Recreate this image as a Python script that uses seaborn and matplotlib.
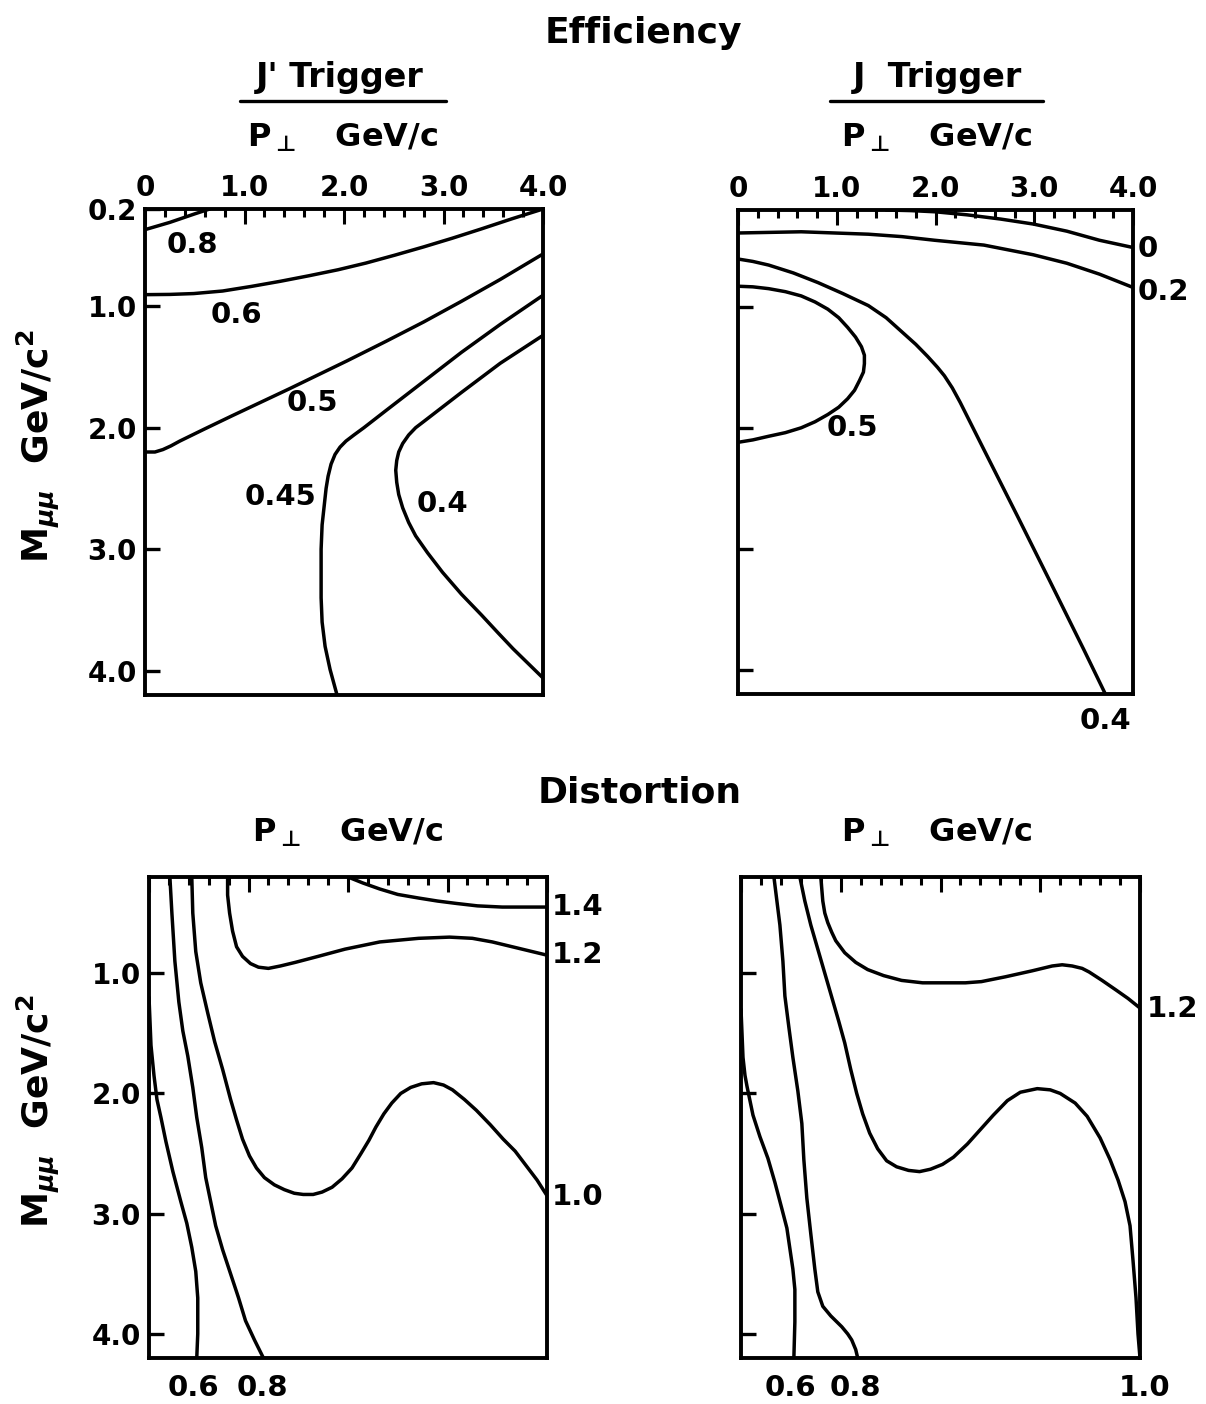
import matplotlib
matplotlib.use("agg")
import matplotlib.pyplot as plt
from matplotlib.lines import Line2D
from matplotlib.ticker import MultipleLocator
import seaborn as sns

# ---- Efficiency, J' trigger  (pT GeV/c, M GeV/c^2) ----
jp_08_pt = [0, 0.25, 0.5, 0.65]
jp_08_m = [0.37, 0.31, 0.24, 0.2]
jp_06_pt = [0, 0.25, 0.49, 0.78, 1.07, 1.36, 1.65, 1.94, 2.22, 2.51, 2.8, 3.09, 3.38, 3.69, 4.0]
jp_06_m = [0.905, 0.903, 0.896, 0.875, 0.837, 0.795, 0.749, 0.7, 0.645, 0.58, 0.512, 0.44,
           0.364, 0.28, 0.2]
jp_05_pt = [0, 0.1, 0.18, 0.26, 0.35, 0.6, 0.88, 1.45, 2.03, 2.42, 2.8, 3.18, 3.57, 4.0]
jp_05_m = [2.2, 2.2, 2.18, 2.15, 2.11, 2.01, 1.9, 1.68, 1.45, 1.29, 1.13, 0.96, 0.78, 0.57]
jp_045_pt = [4.0, 3.57, 3.18, 2.8, 2.42, 2.2, 2.1, 2.02, 1.96, 1.91, 1.87, 1.84, 1.82, 1.8,
             1.78, 1.77, 1.77, 1.77, 1.78, 1.81, 1.86, 1.93]
jp_045_m = [0.91, 1.15, 1.38, 1.62, 1.86, 2.0, 2.06, 2.11, 2.16, 2.22, 2.3, 2.4, 2.5, 2.65,
            2.8, 3.0, 3.2, 3.4, 3.6, 3.8, 3.99, 4.2]
jp_04_pt = [4.0, 3.57, 3.18, 2.8, 2.72, 2.65, 2.59, 2.55, 2.53, 2.52, 2.53, 2.55, 2.59, 2.65,
            2.72, 2.84, 2.99, 3.18, 3.38, 3.55, 3.7, 3.85, 4.0]
jp_04_m = [1.24, 1.47, 1.71, 1.95, 2.0, 2.06, 2.13, 2.2, 2.27, 2.35, 2.45, 2.55, 2.66, 2.78,
           2.89, 3.03, 3.19, 3.37, 3.54, 3.69, 3.82, 3.94, 4.06]

# ---- Efficiency, J trigger ----
j_0_pt = [1.5, 1.75, 2.0, 2.32, 2.66, 2.99, 3.33, 3.66, 4.0]
j_0_m = [0.2, 0.205, 0.215, 0.24, 0.275, 0.316, 0.375, 0.45, 0.51]
j_02_pt = [0, 0.64, 1.32, 1.66, 1.99, 2.49, 2.99, 3.33, 3.66, 4.0]
j_02_m = [0.39, 0.38, 0.4, 0.42, 0.45, 0.49, 0.57, 0.64, 0.73, 0.84]
j_04_pt = [0, 0.15, 0.31, 0.56, 0.81, 1.06, 1.32, 1.5, 1.65, 1.8, 1.92, 2.02, 2.09, 2.17,
           2.25, 2.49, 2.83, 3.16, 3.5, 3.72]
j_04_m = [0.605, 0.625, 0.655, 0.72, 0.8, 0.89, 0.99, 1.09, 1.2, 1.31, 1.41, 1.5, 1.57, 1.67,
          1.79, 2.18, 2.73, 3.27, 3.83, 4.2]
j_05_pt = [0, 0.15, 0.31, 0.48, 0.64, 0.78, 0.91, 1.02, 1.11, 1.19, 1.25, 1.28, 1.28, 1.27,
           1.23, 1.18, 1.11, 1.02, 0.91, 0.78, 0.64, 0.48, 0.31, 0.15, 0]
j_05_m = [0.83, 0.835, 0.85, 0.875, 0.91, 0.96, 1.02, 1.09, 1.17, 1.25, 1.33, 1.4, 1.47, 1.54,
          1.61, 1.69, 1.76, 1.83, 1.89, 1.95, 2.0, 2.04, 2.07, 2.1, 2.12]

# ---- Distortion, J' trigger ----
dl_14_pt = [2.0, 2.15, 2.32, 2.5, 2.71, 2.9, 3.09, 3.3, 3.55, 4.0]
dl_14_m = [0.2, 0.25, 0.3, 0.345, 0.375, 0.4, 0.42, 0.44, 0.45, 0.45]
dl_12_pt = [0.79, 0.79, 0.81, 0.84, 0.88, 0.94, 1.02, 1.1, 1.2, 1.32, 1.47, 1.7, 1.97, 2.32,
            2.71, 3.02, 3.25, 3.45, 3.65, 3.85, 4.0]
dl_12_m = [0.2, 0.35, 0.5, 0.65, 0.78, 0.86, 0.92, 0.95, 0.96, 0.94, 0.91, 0.86, 0.8, 0.74,
           0.71, 0.7, 0.71, 0.74, 0.78, 0.82, 0.85]
dl_10_pt = [0.43, 0.44, 0.47, 0.52, 0.59, 0.66, 0.74, 0.82, 0.88, 0.94, 1.01, 1.08, 1.16, 1.26,
            1.36, 1.46, 1.55, 1.65, 1.74, 1.84, 1.94, 2.04, 2.13, 2.21, 2.28, 2.36, 2.44, 2.53,
            2.63, 2.74, 2.86, 2.96, 3.05, 3.17, 3.29, 3.43, 3.56, 3.68, 3.79, 3.9, 4.0]
dl_10_m = [0.2, 0.5, 0.82, 1.08, 1.33, 1.57, 1.8, 2.05, 2.22, 2.38, 2.52, 2.62, 2.7, 2.76,
           2.8, 2.83, 2.84, 2.84, 2.82, 2.78, 2.71, 2.62, 2.5, 2.39, 2.28, 2.17, 2.08, 2.0,
           1.95, 1.92, 1.91, 1.93, 1.97, 2.05, 2.14, 2.26, 2.38, 2.48, 2.6, 2.72, 2.85]
dl_08_pt = [0.21, 0.23, 0.26, 0.3, 0.34, 0.39, 0.44, 0.48, 0.53, 0.57, 0.62, 0.67, 0.74, 0.82,
            0.9, 0.97, 1.06, 1.15]
dl_08_m = [0.2, 0.5, 0.9, 1.24, 1.48, 1.69, 1.95, 2.2, 2.45, 2.7, 2.9, 3.1, 3.3, 3.5, 3.7,
           3.89, 4.05, 4.2]
dl_06_pt = [0, 0.02, 0.05, 0.08, 0.12, 0.17, 0.24, 0.32, 0.38, 0.43, 0.47, 0.49, 0.49, 0.48]
dl_06_m = [1.2, 1.6, 1.85, 2.05, 2.2, 2.4, 2.65, 2.9, 3.08, 3.28, 3.48, 3.7, 4.0, 4.2]

# ---- Distortion, J trigger ----
dr_12_pt = [0.8, 0.81, 0.82, 0.84, 0.87, 0.91, 0.95, 1.04, 1.15, 1.27, 1.43, 1.61, 1.82, 2.04,
            2.25, 2.41, 2.65, 2.92, 3.12, 3.22, 3.32, 3.42, 3.49, 3.62, 3.76, 3.88, 4.0]
dr_12_m = [0.2, 0.3, 0.4, 0.5, 0.58, 0.66, 0.73, 0.83, 0.91, 0.97, 1.02, 1.06, 1.08, 1.08,
           1.08, 1.07, 1.03, 0.98, 0.94, 0.93, 0.94, 0.96, 0.99, 1.06, 1.14, 1.21, 1.29]
dr_10_pt = [0.59, 0.64, 0.7, 0.77, 0.84, 0.91, 0.98, 1.04, 1.1, 1.16, 1.22, 1.29, 1.37, 1.46,
            1.56, 1.68, 1.79, 1.9, 2.02, 2.13, 2.27, 2.4, 2.53, 2.67, 2.8, 2.97, 3.1, 3.2,
            3.35, 3.47, 3.6, 3.7, 3.78, 3.85, 3.9, 3.93, 3.96, 3.98, 4.0]
dr_10_m = [0.2, 0.4, 0.6, 0.8, 1.0, 1.2, 1.4, 1.58, 1.8, 2.0, 2.17, 2.33, 2.46, 2.56, 2.61,
           2.64, 2.65, 2.63, 2.59, 2.53, 2.42, 2.3, 2.18, 2.06, 1.99, 1.96, 1.97, 2.0, 2.08,
           2.19, 2.37, 2.55, 2.72, 2.9, 3.1, 3.39, 3.7, 4.0, 4.2]
dr_08_pt = [0.33, 0.36, 0.39, 0.42, 0.44, 0.48, 0.52, 0.57, 0.61, 0.63, 0.66, 0.7, 0.74, 0.77,
            0.82, 0.9, 1.01, 1.07, 1.11, 1.15, 1.17]
dr_08_m = [0.2, 0.4, 0.6, 0.9, 1.19, 1.45, 1.7, 1.98, 2.25, 2.55, 2.87, 3.17, 3.46, 3.65,
           3.77, 3.85, 3.94, 4.0, 4.05, 4.13, 4.2]
dr_06_pt = [0, 0.01, 0.02, 0.04, 0.06, 0.09, 0.12, 0.19, 0.27, 0.34, 0.41, 0.46, 0.49, 0.52,
            0.54, 0.54, 0.53]
dr_06_m = [1.3, 1.5, 1.7, 1.85, 1.94, 2.06, 2.18, 2.36, 2.54, 2.74, 2.96, 3.12, 3.29, 3.46,
           3.63, 3.9, 4.2]

# contour labels: (text, pT, M, ha)
jp_labels = [("0.8", 0.48, 0.5, "center"), ("0.6", 0.92, 1.07, "center"),
             ("0.5", 1.68, 1.8, "center"), ("0.45", 1.36, 2.57, "center"),
             ("0.4", 2.99, 2.63, "center")]
j_labels = [("0", 4.05, 0.52, "left"), ("0.2", 4.05, 0.88, "left"),
            ("0.5", 1.16, 2.0, "center"), ("0.4", 3.72, 4.42, "center")]
dl_labels = [("1.4", 4.05, 0.45, "left"), ("1.2", 4.05, 0.85, "left"),
             ("1.0", 4.05, 2.86, "left"), ("0.6", 0.45, 4.45, "center"),
             ("0.8", 1.14, 4.45, "center")]
dr_labels = [("1.2", 4.07, 1.3, "left"), ("0.6", 0.5, 4.45, "center"),
             ("0.8", 1.15, 4.45, "center"), ("1.0", 4.05, 4.45, "center")]

x_ticks = [0, 1, 2, 3, 4]
x_tick_labels = ["0", "1.0", "2.0", "3.0", "4.0"]
y_ticks = [1, 2, 3, 4]
y_tick_labels = ["1.0", "2.0", "3.0", "4.0"]

sns.set_theme(style="white")
plt.rcParams["font.family"] = ["DejaVu Sans"]
plt.rcParams["font.weight"] = "bold"
plt.rcParams["mathtext.fontset"] = "dejavusans"
for key in ["text.color", "axes.labelcolor", "xtick.color", "ytick.color"]:
    plt.rcParams[key] = "black"

W, H = 1206, 1404
fig = plt.figure(figsize=(W / 100, H / 100), dpi=100)


def box(x0, y0, x1, y1):
    return [x0 / W, 1 - y1 / H, (x1 - x0) / W, (y1 - y0) / H]


def setup(ax, top_labels, left_labels):
    ax.set_xlim(0, 4)
    ax.set_ylim(4.2, 0.2)
    for s in ax.spines.values():
        s.set_linewidth(2.8)
        s.set_color("black")
    ax.xaxis.set_ticks_position("top")
    ax.set_xticks(x_ticks)
    ax.xaxis.set_minor_locator(MultipleLocator(0.2))
    ax.tick_params(axis="x", which="major", direction="in", length=11, width=2.2,
                   top=True, bottom=False, labeltop=top_labels, labelbottom=False,
                   pad=5, labelsize=20, colors="black")
    ax.tick_params(axis="x", which="minor", direction="in", length=6, width=2.2,
                   top=True, bottom=False)
    if top_labels:
        ax.set_xticklabels(x_tick_labels)
    if left_labels == "with02":
        ax.set_yticks([0.2] + y_ticks)
        ax.set_yticklabels(["0.2"] + y_tick_labels)
    else:
        ax.set_yticks(y_ticks)
        ax.set_yticklabels(y_tick_labels)
    ax.tick_params(axis="y", which="major", direction="in", length=11, width=2.4,
                   left=True, right=False, labelleft=bool(left_labels), pad=6,
                   labelsize=20, colors="black")
    ax.set_xlabel("")
    ax.set_ylabel("")


def curves(ax, pairs, labels):
    for pt, m in pairs:
        sns.lineplot(x=pt, y=m, sort=False, estimator=None, color="black",
                     linewidth=2.5, ax=ax)
    for txt, x, y, ha in labels:
        ax.text(x, y, txt, ha=ha, va="center", fontsize=21, clip_on=False)


ax_tl = fig.add_axes(box(145, 209, 543, 695))
ax_tr = fig.add_axes(box(738, 210, 1133, 694))
ax_bl = fig.add_axes(box(149, 877, 547, 1358))
ax_br = fig.add_axes(box(741, 877, 1140, 1358))

curves(ax_tl, [(jp_08_pt, jp_08_m), (jp_06_pt, jp_06_m), (jp_05_pt, jp_05_m),
               (jp_045_pt, jp_045_m), (jp_04_pt, jp_04_m)], jp_labels)
curves(ax_tr, [(j_0_pt, j_0_m), (j_02_pt, j_02_m), (j_04_pt, j_04_m),
               (j_05_pt, j_05_m)], j_labels)
curves(ax_bl, [(dl_14_pt, dl_14_m), (dl_12_pt, dl_12_m), (dl_10_pt, dl_10_m),
               (dl_08_pt, dl_08_m), (dl_06_pt, dl_06_m)], dl_labels)
curves(ax_br, [(dr_12_pt, dr_12_m), (dr_10_pt, dr_10_m), (dr_08_pt, dr_08_m),
               (dr_06_pt, dr_06_m)], dr_labels)

setup(ax_tl, True, "with02")
setup(ax_tr, True, False)
setup(ax_bl, False, True)
setup(ax_br, False, False)


def ftext(x, y, s, size, **kw):
    fig.text(x / W, 1 - y / H, s, fontsize=size, ha="center", va="baseline", **kw)


ftext(643, 43, "Efficiency", 26)
ftext(340, 87, "J' Trigger", 24)
ftext(937, 87, "J  Trigger", 24)
ptitle = r"P$_{\bot}$   GeV/c"
ftext(343, 147, ptitle, 23)
ftext(937, 147, ptitle, 23)
ftext(640, 802, "Distortion", 26)
ftext(348, 842, ptitle, 23)
ftext(937, 842, ptitle, 23)

for x0, x1 in [(240, 446), (830, 1043)]:
    fig.add_artist(Line2D([x0 / W, x1 / W], [1 - 101 / H, 1 - 101 / H],
                          transform=fig.transFigure, color="black", linewidth=2.4))

ylab = r"M$_{\mu\mu}$  GeV/c$^{\mathbf{2}}$"
fig.text(38 / W, 1 - 446 / H, ylab, fontsize=26, rotation=90, ha="center", va="center")
fig.text(38 / W, 1 - 1111 / H, ylab, fontsize=26, rotation=90, ha="center", va="center")

fig.savefig("out.png", dpi=100, facecolor="white")
plt.close("all")
